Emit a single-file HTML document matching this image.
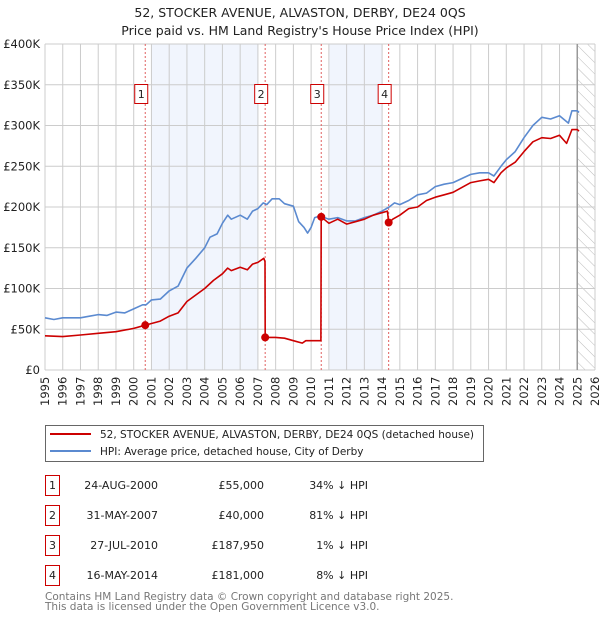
<!DOCTYPE html>
<html><head><meta charset="utf-8"><style>
body{margin:0;background:#fff;font-family:"DejaVu Sans","Liberation Sans",sans-serif;}
#wrap{position:relative;width:600px;height:620px;overflow:hidden}
svg text{font-family:"DejaVu Sans","Liberation Sans",sans-serif}
</style></head><body><div id="wrap">
<svg id="c" width="600" height="620"></svg>
</div>
<script>
const hpiT=[1995,1995.5,1996,1997,1997.5,1998,1998.5,1999,1999.5,2000,2000.5,2000.7,2001,2001.5,2002,2002.5,2003,2003.5,2004,2004.3,2004.7,2005,2005.3,2005.5,2006,2006.4,2006.7,2007,2007.3,2007.5,2007.8,2008.2,2008.5,2009,2009.3,2009.6,2009.8,2010,2010.2,2010.5,2011,2011.5,2012,2012.5,2013,2013.5,2014,2014.4,2014.7,2015,2015.5,2016,2016.5,2017,2017.5,2018,2018.5,2019,2019.5,2020,2020.3,2020.7,2021,2021.5,2022,2022.5,2023,2023.5,2024,2024.5,2024.7,2025,2025.1];
const hpiV=[64,62,64,64,66,68,67,71,70,75,80,80,86,87,97,103,125,137,150,163,167,180,190,185,190,185,195,198,205,203,210,210,204,201,182,175,168,175,187,189,185,187,183,183,187,190,195,200,205,203,208,215,217,225,228,230,235,240,242,242,238,250,258,268,285,300,310,308,312,303,318,318,316];
const ppT=[1995,1996,1997,1998,1999,2000,2000.65,2001,2001.5,2002,2002.5,2003,2003.5,2004,2004.5,2005,2005.3,2005.5,2006,2006.4,2006.7,2007,2007.33,2007.40,2007.41,2008,2008.5,2009,2009.5,2009.7,2010.55,2010.57,2011,2011.5,2012,2012.5,2013,2013.5,2014,2014.3,2014.37,2014.6,2015,2015.5,2016,2016.5,2017,2017.5,2018,2018.5,2019,2019.5,2020,2020.3,2020.7,2021,2021.5,2022,2022.5,2023,2023.5,2024,2024.4,2024.7,2025,2025.1];
const ppV=[42,41,43,45,47,51,55,57,60,66,70,84,92,100,110,118,125,122,126,123,130,132,137,133,40,40,39,36,33,36,36,188,180,185,179,182,185,190,193,195,181,185,190,198,200,208,212,215,218,224,230,232,234,230,242,248,255,268,280,285,284,288,278,295,295,293];
const saleT=[2000.65,2007.41,2010.57,2014.37];
const saleV=[55,40,187.95,181];
const saleLbl=["1","2","3","4"];
const yTicks=[0,50,100,150,200,250,300,350,400];
const yLbls=["£0","£50K","£100K","£150K","£200K","£250K","£300K","£350K","£400K"];
const years=[];for(let y=1995;y<=2026;y++)years.push(y);

const X0=45,X1=595,Y0=370,Y1=44;
const sx=t=>X0+(t-1995)*(X1-X0)/31;
const sy=v=>Y0-v*(Y0-Y1)/400;
const NS="http://www.w3.org/2000/svg";
const svg=document.getElementById('c');
function el(tag,attrs,parent){const e=document.createElementNS(NS,tag);for(const k in attrs)e.setAttribute(k,attrs[k]);(parent||svg).appendChild(e);return e;}

let e;
e=el('text',{x:300,y:17,'text-anchor':'middle','font-size':12.5,fill:'#222'});e.textContent="52, STOCKER AVENUE, ALVASTON, DERBY, DE24 0QS";


e=el('text',{x:300,y:35,'text-anchor':'middle','font-size':12.5,fill:'#222'});e.textContent="Price paid vs. HM Land Registry's House Price Index (HPI)";



const defs=el('defs',{});
const pat=el('pattern',{id:'h',width:8,height:8,patternUnits:'userSpaceOnUse',patternTransform:'rotate(-45)'},defs);
el('line',{x1:0,y1:0,x2:0,y2:8,stroke:'#bbb','stroke-width':1},pat);
e=el('rect',{x:sx(2001),y:Y1,width:sx(2007)-sx(2001),height:Y0-Y1,fill:'#eef3fc',opacity:0.8});


e=el('rect',{x:sx(2011),y:Y1,width:sx(2014)-sx(2011),height:Y0-Y1,fill:'#eef3fc',opacity:0.8});


e=el('rect',{x:sx(2025),y:Y1,width:X1-sx(2025),height:Y0-Y1,fill:'url(#h)'});



years.forEach(y=>{e=el('line',{x1:sx(y),y1:Y1,x2:sx(y),y2:Y0,stroke:'#ccc','stroke-width':1});


const t=el('text',{transform:`translate(${sx(y)+4},${Y0+36}) rotate(-90)`,'font-size':11.5,fill:'#222'});t.textContent=y;

});
yTicks.forEach((v,i)=>{e=el('line',{x1:X0,y1:sy(v),x2:X1,y2:sy(v),stroke:'#ccc','stroke-width':1});


const t=el('text',{x:40,y:sy(v)+4,'text-anchor':'end','font-size':11.5,fill:'#222'});t.textContent=yLbls[i];

});
e=el('line',{x1:sx(2025),y1:Y1,x2:sx(2025),y2:Y0,stroke:'#999','stroke-width':1.5});



saleT.forEach((t,i)=>{e=el('line',{x1:sx(t),y1:Y1,x2:sx(t),y2:Y0,stroke:'#e06060','stroke-width':1,'stroke-dasharray':'2,2'});


const g=el('g',{});


el('rect',{x:sx(t)-10.5,y:84.5,width:13,height:19,fill:'#fff',stroke:'#c00','stroke-width':1},g);
const tx=el('text',{x:sx(t)-4,y:98,'text-anchor':'middle','font-size':11,fill:'#222'},g);tx.textContent=saleLbl[i];});

function path(T,V,col,name){const d=T.map((t,i)=>(i?'L':'M')+sx(t).toFixed(1)+','+sy(V[i]).toFixed(1)).join('');
const p=el('path',{d:d,fill:'none',stroke:col,'stroke-width':1.6,'stroke-linejoin':'round'});

}
path(hpiT,hpiV,'#5b8ad0','hpi-line');
path(ppT,ppV,'#cc0000','price-paid-line');
saleT.forEach((t,i)=>{const c=el('circle',{cx:sx(t),cy:sy(saleV[i]),r:4,fill:'#cc0000'});

});

const lg=el('g',{});


el('rect',{x:45.5,y:425.5,width:438,height:36,fill:'#fff',stroke:'#666','stroke-width':1},lg);
el('line',{x1:50,y1:434,x2:91,y2:434,stroke:'#cc0000','stroke-width':2},lg);
el('line',{x1:50,y1:451,x2:91,y2:451,stroke:'#5b8ad0','stroke-width':2},lg);
e=el('text',{x:100,y:438,'font-size':10.5,fill:'#222'},lg);e.textContent="52, STOCKER AVENUE, ALVASTON, DERBY, DE24 0QS (detached house)";


e=el('text',{x:100,y:455,'font-size':10.5,fill:'#222'},lg);e.textContent="HPI: Average price, detached house, City of Derby";



const rows=[["24-AUG-2000","£55,000","34% ↓ HPI"],["31-MAY-2007","£40,000","81% ↓ HPI"],["27-JUL-2010","£187,950","1% ↓ HPI"],["16-MAY-2014","£181,000","8% ↓ HPI"]];
rows.forEach((r,i)=>{const y=475+i*30;const g=el('g',{});


el('rect',{x:45.5,y:y+0.5,width:14,height:20,fill:'#fff',stroke:'#c00','stroke-width':1},g);
let t=el('text',{x:52.5,y:y+14,'text-anchor':'middle','font-size':11,fill:'#222'},g);t.textContent=i+1;
t=el('text',{x:158,y:y+14,'text-anchor':'end','font-size':11,fill:'#222'},g);t.textContent=r[0];
t=el('text',{x:264,y:y+14,'text-anchor':'end','font-size':11,fill:'#222'},g);t.textContent=r[1];
t=el('text',{x:368,y:y+14,'text-anchor':'end','font-size':11,fill:'#222'},g);t.textContent=r[2];});
e=el('text',{x:45,y:600,'font-size':10.5,fill:'#777'});e.textContent="Contains HM Land Registry data © Crown copyright and database right 2025.";


e=el('text',{x:45,y:610,'font-size':10.5,fill:'#777'});e.textContent="This data is licensed under the Open Government Licence v3.0.";


</script></body></html>
